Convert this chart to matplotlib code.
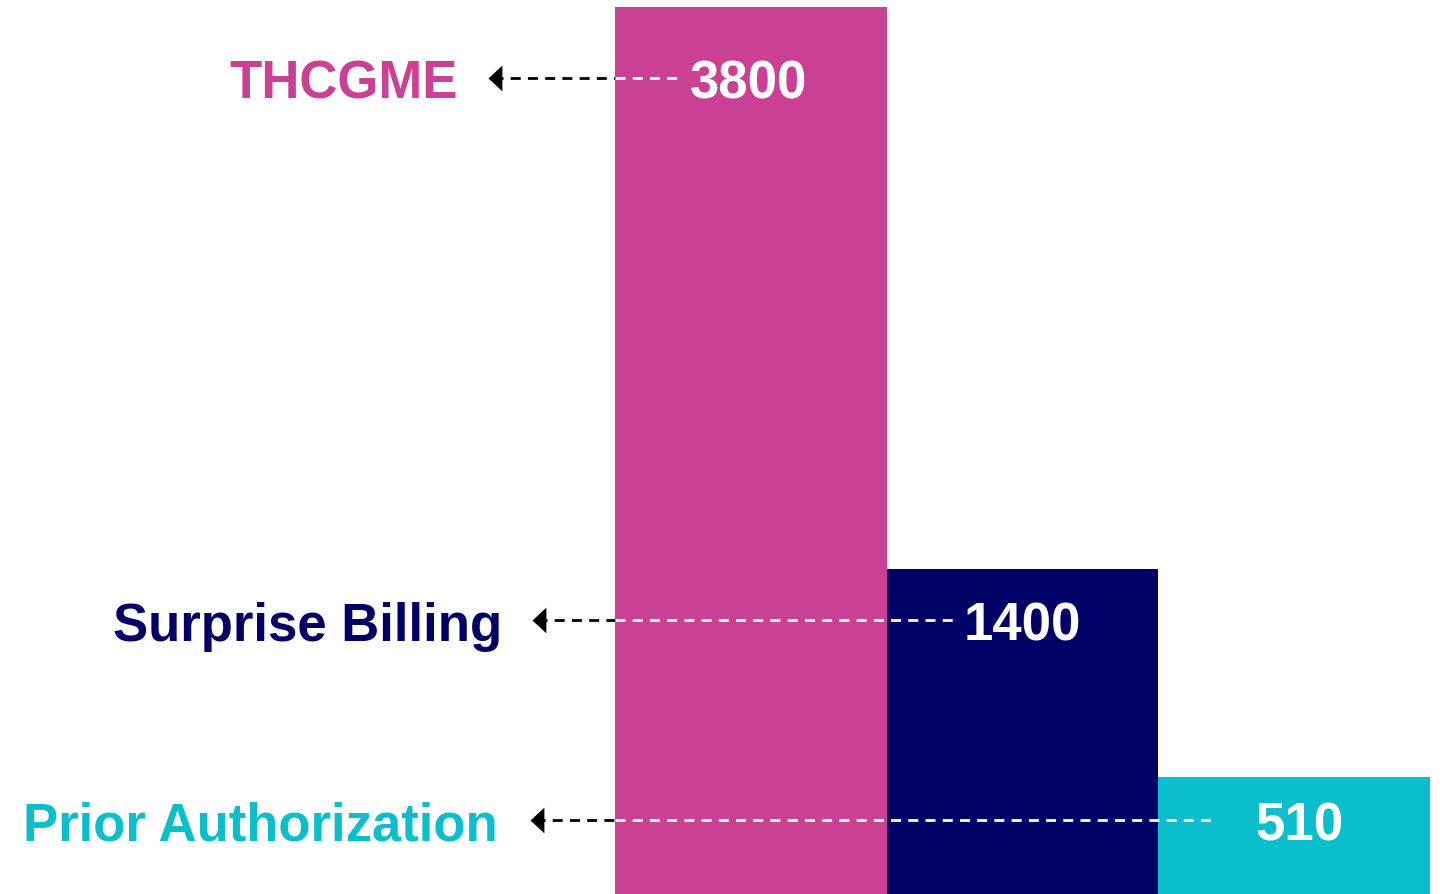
import matplotlib
matplotlib.use("Agg")
import matplotlib.pyplot as plt

# === DATA ===
categories = ["THCGME", "Surprise Billing", "Prior Authorization"]
values = [3800, 1400, 510]
value_labels = ["3800", "1400", "510"]
colors = ["#CA4094", "#000066", "#0ABFCB"]

# === LAYOUT (pixel positions) ===
W, H = 1440, 895
PX_PER_X = 271.67          # bar width in pixels
BAR_LEFT_PX = 615
BASE_PY = 897.8            # zero line sits just below the image
PX_PER_Y = 0.23417

def px_to_x(px):
    return (px - BAR_LEFT_PX) / PX_PER_X

def py_to_y(py):
    return (BASE_PY - py) / PX_PER_Y

line_py = [79, 621, 821]        # y of each dashed leader line
tip_px = [488, 532, 530]        # arrow tip
label_right_px = [458, 502, 498]
line_end_px = [682, 955, 1215]
value_center_px = [749, 1022, 1299]

plt.rcParams["font.family"] = ["Liberation Sans", "DejaVu Sans"]

fig = plt.figure(figsize=(W / 100, H / 100), dpi=100)
ax = fig.add_axes([0, 0, 1, 1])
ax.set_xlim(px_to_x(0), px_to_x(W))
ax.set_ylim(py_to_y(H), py_to_y(0))
ax.axis("off")

xs = list(range(len(values)))
ax.bar(xs, values, width=1.0, align="edge", color=colors, zorder=1)

head = [(0, 0), (0.54, 0.5), (0.54, -0.5)]
dash = (0, (3.6, 2.6))

for i, cat in enumerate(categories):
    y = py_to_y(line_py[i])
    x_tip = px_to_x(tip_px[i])
    x_end = px_to_x(line_end_px[i])
    # black dashes outside the bars, white dashes over them
    ax.plot([x_tip + 0.02, 0], [y, y], color="black", lw=2.0,
            linestyle=dash, zorder=2)
    ax.plot([0, x_end], [y, y], color="white", lw=2.0,
            linestyle=dash, zorder=2)
    ax.plot([x_tip], [y], marker=head, markersize=20, color="black",
            markeredgewidth=0, zorder=3)
    ax.text(px_to_x(label_right_px[i]), y, cat, ha="right", va="center_baseline",
            fontsize=38, fontweight="bold", color=colors[i])
    ax.text(px_to_x(value_center_px[i]), y, value_labels[i], ha="center",
            va="center_baseline", fontsize=38, fontweight="bold", color="white", zorder=4)

fig.savefig("out.png", dpi=100)
